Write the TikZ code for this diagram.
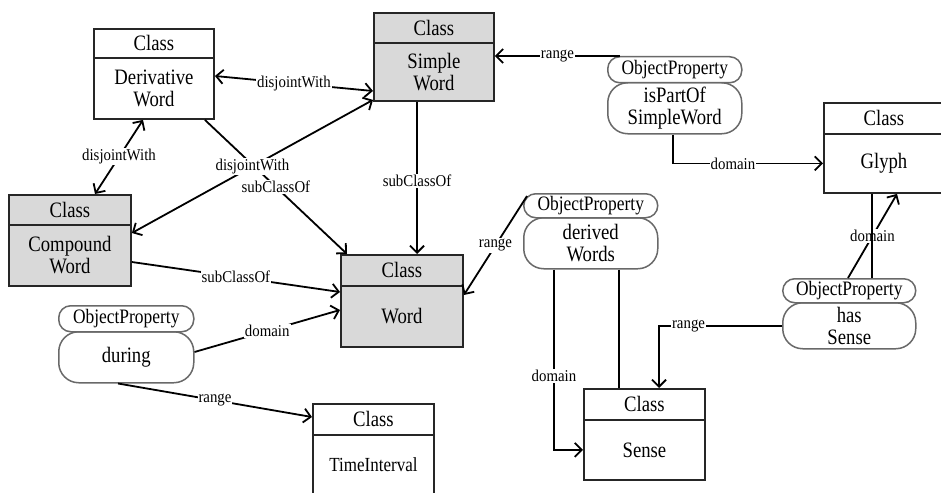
\documentclass[tikz,border=0pt]{standalone}
\usepackage{fontspec}
\setmainfont{Liberation Serif}
\newfontfamily\dgserif[FakeStretch=0.85]{Liberation Serif}
\newfontfamily\dglabel[FakeStretch=0.9]{Liberation Serif}
\usetikzlibrary{arrows.meta,calc}
\definecolor{boxgray}{RGB}{217,217,217}
\definecolor{pillgray}{RGB}{105,105,105}
\begin{document}
\begin{tikzpicture}[x=1pt,y=-1pt,
  cls/.style={draw=black!85, line width=1.9pt, inner sep=0pt, anchor=north west,
    font=\dgserif\fontsize{22}{22}\selectfont, align=center},
  pillh/.style={draw=pillgray, line width=1.5pt, rounded corners=12pt, anchor=north west,
    inner sep=0pt, font=\dgserif\fontsize{20.5}{21}\selectfont, fill=white},
  pillb/.style={draw=pillgray, line width=1.5pt, rounded corners=20pt, anchor=north west,
    inner sep=0pt, font=\dgserif\fontsize{22}{22}\selectfont, align=center, fill=white},
  conn/.style={line width=1.8pt, black},
  arr/.style={conn, -{Straight Barb[length=7pt,width=14pt]}},
  darr/.style={conn, {Straight Barb[length=7pt,width=14pt]}-{Straight Barb[length=7pt,width=14pt]}},
  lbl/.style={fill=white, inner sep=1pt, font=\dglabel\fontsize{16.5}{17}\selectfont}]
\useasboundingbox (0,0) rectangle (941,492);
\clip (0,0) rectangle (941,492);

% classes
\node[cls, fill=white, minimum width=120pt, minimum height=29pt] (dwh) at (93,28) {Class};
\node[cls, fill=white, minimum width=120pt, minimum height=61pt] (dw) at (93,57) {Derivative\\Word};
\node[cls, fill=boxgray, minimum width=120pt, minimum height=30pt] (swh) at (373,12) {Class};
\node[cls, fill=boxgray, minimum width=120pt, minimum height=58pt] (sw) at (373,42) {Simple\\Word};
\node[cls, fill=boxgray, minimum width=122pt, minimum height=30pt] (cwh) at (8,194) {Class};
\node[cls, fill=boxgray, minimum width=122pt, minimum height=61pt] (cw) at (8,224) {Compound\\Word};
\node[cls, fill=boxgray, minimum width=122pt, minimum height=31pt] (wdh) at (340,254) {Class};
\node[cls, fill=boxgray, minimum width=122pt, minimum height=61pt] (wd) at (340,285) {Word};
\node[cls, fill=white, minimum width=121pt, minimum height=31pt] (tih) at (312,403) {Class};
\node[cls, fill=white, minimum width=121pt, minimum height=60pt, font=\dgserif\fontsize{20}{20}\selectfont] (ti) at (312,434) {TimeInterval};
\node[cls, fill=white, minimum width=121pt, minimum height=31pt] (seh) at (583,388) {Class};
\node[cls, fill=white, minimum width=121pt, minimum height=60pt] (se) at (583,419) {Sense};
\node[cls, fill=white, minimum width=120pt, minimum height=31pt] (glh) at (823,102) {Class};
\node[cls, fill=white, minimum width=120pt, minimum height=59pt] (gl) at (823,133) {Glyph};

% object properties
\node[pillb, minimum width=134pt, minimum height=51pt] (ip) at (607,82) {isPartOf\\SimpleWord};
\node[pillh, minimum width=134pt, minimum height=26pt] (iph) at (607,56) {ObjectProperty};
\node[pillb, minimum width=134pt, minimum height=51pt] (dv) at (523,217) {derived\\Words};
\node[pillh, minimum width=134pt, minimum height=24pt] (dvh) at (523,193) {ObjectProperty};
\node[pillb, minimum width=135pt, minimum height=51pt] (du) at (58,331) {during};
\node[pillh, minimum width=135pt, minimum height=26pt] (duh) at (58,305) {ObjectProperty};
\node[pillb, minimum width=133pt, minimum height=46pt] (hs) at (782,302) {has\\Sense};
\node[pillh, minimum width=133pt, minimum height=24pt] (hsh) at (782,278) {ObjectProperty};

% connectors
\draw[darr] ($(dw.north east)+(0,19)$) -- node[lbl]{disjointWith} ($(sw.north west)+(0,49)$);
\draw[darr] ($(dw.south west)+(50,0)$) -- node[lbl]{disjointWith} ($(cwh.north west)+(87,0)$);
\draw[arr] ($(dw.south east)+(-10,0)$) -- node[lbl]{subClassOf} ($(wdh.north west)+(7,0)$);
\draw[darr] ($(cw.north east)+(0,9)$) -- node[lbl]{disjointWith} ($(sw.south west)+(0,-2)$);
\draw[arr] ($(sw.south west)+(44,0)$) -- node[lbl,pos=0.52]{subClassOf} ($(wdh.north west)+(77,0)$);
\draw[arr] ($(cw.north east)+(0,38)$) -- node[lbl]{subClassOf} ($(wd.north west)+(0,7)$);
\draw[arr] ($(du.north east)+(0,21)$) -- node[lbl]{domain} ($(wd.north west)+(0,25)$);
\draw[arr] ($(du.south west)+(60,0)$) -- node[lbl]{range} ($(tih.north west)+(0,14)$);
\draw[arr] ($(iph.north west)+(13,0)$) -- node[lbl]{range} ($(sw.north east)+(0,14)$);
\draw[arr] ($(ip.south west)+(66,0)$) |- node[lbl,pos=0.7]{domain} (gl.west);
\draw[arr] ($(dvh.north west)+(4,3)$) -- node[lbl]{range} ($(wd.north east)+(0,10)$);
\draw[arr] ($(dv.south west)+(31,0)$) |- node[lbl,pos=0.295]{domain} (se.west);
\draw[conn] ($(dv.south west)+(96,0)$) -- ($(seh.north west)+(36,0)$);
\draw[arr] (hs.west) -| node[lbl,pos=0.38]{range} ($(seh.north west)+(76,0)$);
\draw[arr] ($(hsh.north west)+(66,0)$) -- node[lbl]{domain} ($(gl.south west)+(74,0)$);
\draw[conn] ($(gl.south west)+(49,0)$) -- ($(hsh.north west)+(90,0)$);
\end{tikzpicture}
\end{document}
